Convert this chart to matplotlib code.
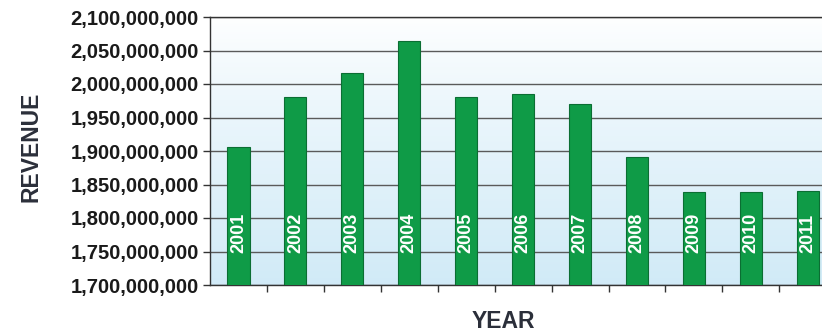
import matplotlib.pyplot as plt
import numpy as np
from matplotlib.ticker import FuncFormatter

years = ['2001', '2002', '2003', '2004', '2005', '2006',
         '2007', '2008', '2009', '2010', '2011']
revenue = [1906e6, 1981e6, 2016e6, 2064e6, 1981e6, 1985e6,
           1970e6, 1891e6, 1839e6, 1839e6, 1840e6]
y_ticks = np.arange(1700e6, 2100e6 + 1, 50e6)

plt.rcParams['font.family'] = ['Liberation Sans', 'DejaVu Sans']

fig = plt.figure(figsize=(8.22, 3.34), dpi=100)
W, H = 822, 334
ax = fig.add_axes([210 / W, (H - 285) / H, (W - 210) / W, (285 - 17) / H])

x = np.arange(len(years))
ax.set_xlim(-0.5, 10.25)
ax.set_ylim(1700e6, 2100e6)

# gradient background: white at top, light blue at bottom
grad = np.linspace(0, 1, 256).reshape(-1, 1)
top = np.array([1.0, 1.0, 1.0])
bottom = np.array([0.82, 0.92, 0.97])
img = top + (bottom - top) * grad[..., None] ** 0.8
ax.imshow(img, extent=[0, 1, 0, 1], transform=ax.transAxes,
          aspect='auto', origin='upper', zorder=0)

ax.set_yticks(y_ticks)
ax.yaxis.grid(True, color='#5a5a5a', linewidth=1.0, zorder=1)
ax.set_axisbelow(True)

ax.bar(x, revenue, width=0.39, color='#0f9b47', edgecolor='#0b6e33',
       linewidth=0.8, zorder=3)

for xi, yr in zip(x, years):
    ax.text(xi, 1748e6, yr, rotation=90, ha='center', va='bottom',
            color='white', fontsize=13, fontweight='bold', zorder=4)

ax.yaxis.set_major_formatter(FuncFormatter(lambda v, p: f'{int(round(v)):,}'))
ax.tick_params(axis='y', labelsize=14.5, length=5, width=1, color='#333333',
               pad=3)
for lbl in ax.get_yticklabels():
    lbl.set_fontweight('bold')
    lbl.set_color('#1a1a1a')

ax.set_xticks(np.arange(0.5, 10, 1))
ax.set_xticklabels([])
ax.tick_params(axis='x', length=5, width=1, color='#333333')

for s in ['left', 'bottom', 'top']:
    ax.spines[s].set_color('#333333')
    ax.spines[s].set_linewidth(1.0)
ax.spines['right'].set_visible(False)

fig.text(31 / W, 1 - 147 / H, 'REVENUE', rotation=90, ha='center',
         va='center', fontsize=16.5, fontweight='bold', color='#2b2f3a')
fig.text(503 / W, 1 - 321 / H, 'YEAR', ha='center', va='center',
         fontsize=16.5, fontweight='bold', color='#2b2f3a')

fig.savefig('out.png', dpi=100)
